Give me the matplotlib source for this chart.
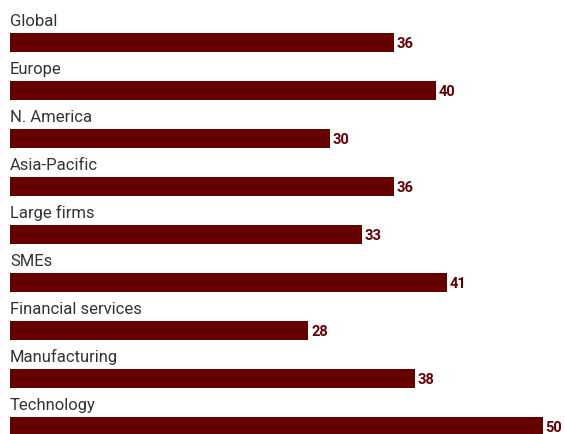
import matplotlib
matplotlib.use("Agg")
import matplotlib.pyplot as plt

# categorias y valores
categorias = ["Global", "Europe", "N. America", "Asia-Pacific", "Large firms",
              "SMEs", "Financial services", "Manufacturing", "Technology"]
valores = [36, 40, 30, 36, 33, 41, 28, 38, 50]

COLOR_BARRA = "#660000"
FUENTE = ["Roboto", "DejaVu Sans"]

W, H = 565, 435
fig = plt.figure(figsize=(W / 100, H / 100), dpi=100)

# eje: x de 0 a 50 entre los pixeles 10 y 543
ax = fig.add_axes([10 / W, 0, 533 / W, 1])
ax.set_xlim(0, 50)
ax.set_ylim((H - 43.5) / 48, -43.5 / 48)

pos = list(range(len(categorias)))
ax.barh(pos, valores, height=0.4, color=COLOR_BARRA, left=0)

for i, (c, v) in enumerate(zip(categorias, valores)):
    ax.text(0, i - 0.36, c, ha="left", va="baseline", fontsize=12,
            color="#333333", family=FUENTE)
    ax.text(v + 0.25, i + 0.02, str(v), ha="left", va="center", fontsize=10.5,
            fontweight="bold", color=COLOR_BARRA, family=FUENTE)

ax.axis("off")
fig.savefig("out.png", dpi=100)
